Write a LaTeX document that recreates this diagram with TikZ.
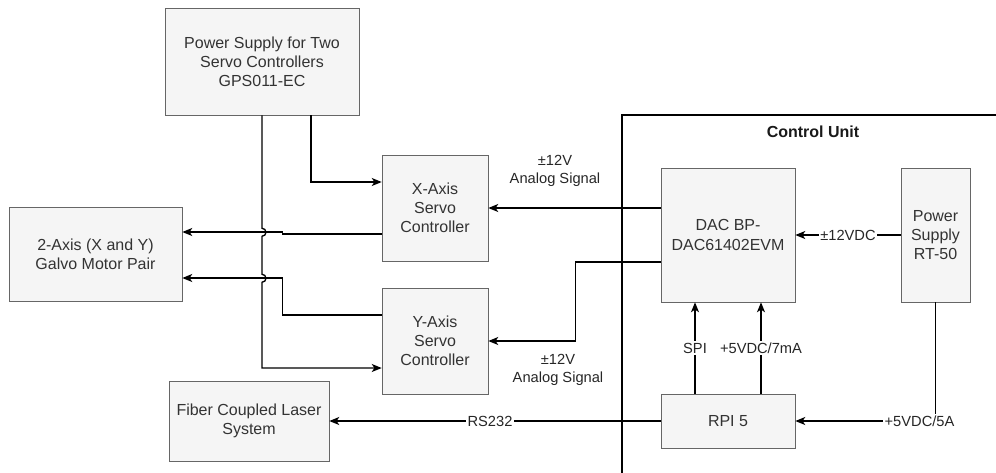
\documentclass[tikz,border=0pt]{standalone}
\usepackage{fontspec}
\setmainfont{Liberation Sans}
\usetikzlibrary{arrows.meta, positioning, calc}

\begin{document}
\begin{tikzpicture}[
    x=0.75pt, y=-0.75pt,
    block/.style 2 args={rectangle, draw=black!60, fill=black!4, text=black!80,
                 align=center, inner sep=1pt, font=\fontsize{12}{14.4}\selectfont,
                 minimum width=#1*0.75pt, minimum height=#2*0.75pt},
    unit/.style={rectangle, draw=black, line width=1pt,
                 minimum width=382*0.75pt, minimum height=405*0.75pt},
    title/.style={font=\bfseries\fontsize{12}{14.4}\selectfont, text=black!90},
    note/.style={font=\fontsize{11}{13.2}\selectfont, text=black!85, align=center, inner sep=1pt},
    tag/.style={note, fill=white},
    link/.style={draw=black, line width=1pt},
    arr/.style={link, -{Stealth[length=7.5pt, width=6pt, inset=2pt]}}
]
\useasboundingbox (0,0) rectangle (996,472);
% Control unit frame (right and bottom edges fall outside the page)
\node[unit] (cu) at (813,317.5) {};
\node[title, below=5pt of cu.north] (cutitle) {Control Unit};
% Blocks outside the control unit
\node[block={194}{107}] (ps)     at (262,61.5) {Power Supply for Two\\Servo Controllers\\GPS011-EC};
\node[block={106}{106}] (xservo) at (435,208)  {X-Axis\\Servo\\Controller};
\node[block={106}{106}] (yservo) at (435,341)  {Y-Axis\\Servo\\Controller};
\node[block={173}{94}]  (galvo)  at (95.5,254) {2-Axis (X and Y)\\Galvo Motor Pair};
\node[block={160}{80}]  (laser)  at (249,421)  {Fiber Coupled Laser\\System};
% Blocks inside the control unit
\node[block={134}{134}] (dac)  at (728,235)   {DAC BP-\\DAC61402EVM};
\node[block={69}{134}]  (psrt) at (935.5,235) {Power\\Supply\\RT-50};
\node[block={134}{54}]  (rpi)  at (728,421)   {RPI 5};
% Servo power lines
\draw[arr] ($(ps.south)+(49,0)$) |- ($(xservo.west)+(0,-26)$);
\draw[arr] (ps.south) -- ++(0,113) arc[start angle=90, end angle=-90, radius=3pt]
    -- ++(0,38) arc[start angle=90, end angle=-90, radius=3pt]
    |- ($(yservo.west)+(0,27)$);
% Servo outputs to galvo
\draw[arr] ($(xservo.west)+(0,26)$) -- ++(-99,0) |- ($(galvo.east)+(0,-22)$);
\draw[arr] ($(yservo.west)+(0,-26)$) -- ++(-99,0) |- ($(galvo.east)+(0,24)$);
% Analog signals from DAC
\draw[arr] ($(dac.west)+(0,-27)$) -- (xservo.east);
\draw[arr] ($(dac.west)+(0,27)$) -- ++(-85,0) |- (yservo.east);
\node[note] (sigx) at (555,171) {±12V\\Analog Signal};
\node[note] (sigy) at (558,370) {±12V\\Analog Signal};
% Control unit links
\draw[arr] (psrt.west) -- (dac.east) node[tag, midway] {±12VDC};
\draw[arr] ($(rpi.north)+(-33,0)$) -- ($(dac.south)+(-33,0)$) node[tag, midway] {SPI};
\draw[arr] ($(rpi.north)+(33,0)$) -- ($(dac.south)+(33,0)$) node[tag, midway] {+5VDC/7mA};
\draw[arr] (psrt.south) |- (rpi.east) node[tag, pos=0.5, xshift=-12pt] {+5VDC/5A};
\draw[arr] (rpi.west) -- (laser.east) node[tag, pos=0.515] {RS232};
\end{tikzpicture}
\end{document}
